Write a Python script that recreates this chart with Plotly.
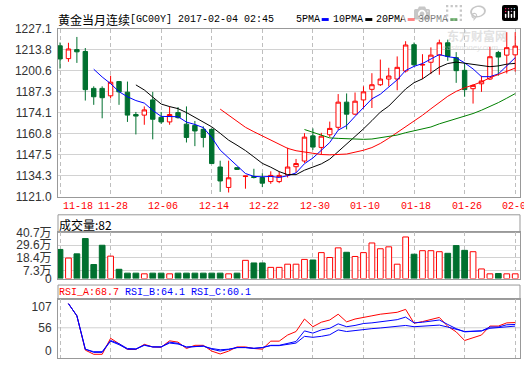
import plotly.graph_objects as go

W, H = 524, 369

# ---------------- data ----------------
dates = ["11-18", "11-21", "11-22", "11-23", "11-24", "11-25", "11-28", "11-29", "11-30", "12-01",
         "12-02", "12-05", "12-06", "12-07", "12-08", "12-09", "12-12", "12-13", "12-14", "12-15",
         "12-16", "12-19", "12-20", "12-21", "12-22", "12-23", "12-26", "12-27", "12-28", "12-29",
         "12-30", "01-03", "01-04", "01-05", "01-06", "01-09", "01-10", "01-11", "01-12", "01-13",
         "01-16", "01-17", "01-18", "01-19", "01-20", "01-23", "01-24", "01-25", "01-26", "01-27",
         "01-30", "01-31", "02-01", "02-02", "02-03"]

open_ = [1216.4, 1208.3, 1214.0, 1212.8, 1189.5, 1189.5, 1184.8, 1193.8, 1187.1, 1173.0,
         1172.6, 1182.2, 1171.2, 1168.3, 1174.2, 1166.9, 1166.1, 1163.6, 1163.6, 1139.8,
         1126.9, 1139.4, 1133.8, 1133.8, 1133.2, 1130.6, 1130.6, 1134.7, 1140.0, 1143.6,
         1159.5, 1152.2, 1160.2, 1164.9, 1180.8, 1173.2, 1182.2, 1188.9, 1191.8, 1195.4,
         1195.4, 1200.5, 1217.1, 1204.2, 1206.0, 1210.5, 1218.3, 1208.9, 1200.9, 1189.3,
         1192.4, 1195.4, 1212.2, 1210.5, 1210.7]
high = [1218.5, 1218.3, 1222.0, 1215.0, 1190.8, 1190.8, 1197.5, 1194.2, 1193.8, 1174.6,
        1178.1, 1187.3, 1174.6, 1178.1, 1177.7, 1178.1, 1168.9, 1165.5, 1164.2, 1143.8,
        1143.8, 1139.6, 1134.3, 1138.7, 1135.9, 1137.1, 1136.9, 1152.0, 1144.9, 1161.2,
        1164.2, 1161.4, 1168.5, 1185.9, 1186.3, 1186.9, 1190.8, 1199.1, 1207.7, 1202.5,
        1209.7, 1219.3, 1218.5, 1211.1, 1215.4, 1220.3, 1220.3, 1212.4, 1205.6, 1192.0,
        1197.5, 1215.8, 1213.2, 1225.0, 1225.0]
low = [1202.0, 1206.3, 1205.6, 1181.8, 1179.1, 1170.6, 1183.2, 1179.1, 1168.3, 1160.4,
       1166.5, 1157.3, 1167.1, 1166.5, 1170.4, 1155.3, 1153.0, 1152.2, 1141.8, 1124.1,
       1123.7, 1138.1, 1126.1, 1132.6, 1127.1, 1129.2, 1129.6, 1133.2, 1136.3, 1142.4,
       1150.6, 1147.5, 1158.7, 1163.2, 1163.6, 1172.6, 1176.7, 1177.1, 1191.0, 1190.8,
       1188.3, 1199.5, 1203.4, 1195.4, 1198.5, 1198.1, 1206.9, 1193.0, 1184.2, 1179.9,
       1187.3, 1194.8, 1197.5, 1198.9, 1200.1]
close = [1208.1, 1214.4, 1212.6, 1188.7, 1184.2, 1183.6, 1193.4, 1187.3, 1172.6, 1172.0,
         1175.9, 1170.0, 1168.3, 1173.0, 1171.0, 1158.5, 1162.6, 1158.5, 1142.0, 1131.0,
         1133.0, 1138.3, 1134.1, 1133.2, 1129.6, 1134.5, 1134.5, 1139.8, 1142.0, 1158.7,
         1152.4, 1159.3, 1164.2, 1180.8, 1173.2, 1181.4, 1187.3, 1191.8, 1195.4, 1197.3,
         1202.8, 1216.9, 1204.4, 1204.6, 1210.5, 1218.3, 1209.7, 1200.7, 1188.7, 1191.4,
         1194.2, 1209.5, 1209.3, 1215.2, 1216.2]

ma5 = [None, None, None, None,
       1201.6, 1196.7, 1192.5, 1187.4, 1184.2, 1181.8, 1180.2, 1175.6, 1171.8, 1171.8,
       1171.6, 1168.2, 1166.7, 1164.7, 1158.5, 1150.5, 1145.4, 1140.6, 1135.7, 1133.9,
       1133.6, 1133.9, 1133.2, 1134.3, 1136.1, 1141.9, 1145.5, 1150.4, 1155.3, 1163.1,
       1166.0, 1171.8, 1177.4, 1182.9, 1185.8, 1190.6, 1194.9, 1200.8, 1203.4, 1205.2,
       1207.8, 1210.9, 1209.5, 1208.8, 1205.6, 1201.8, 1196.9, 1196.9, 1198.6, 1203.9,
       1208.9]
ma10 = [None] * 9 + [
    1191.7, 1188.5, 1184.0, 1179.6, 1178.0, 1176.7, 1174.2, 1171.1, 1168.2, 1165.2,
    1161.1, 1156.8, 1153.6, 1150.2, 1146.2, 1142.1, 1139.7, 1136.9, 1135.0, 1135.0,
    1137.8, 1139.7, 1141.8, 1144.8, 1149.6, 1153.9, 1158.6, 1163.9, 1169.1, 1174.5,
    1178.3, 1183.4, 1189.1, 1193.1, 1195.5, 1199.2, 1202.9, 1205.2, 1206.1, 1205.4,
    1204.8, 1203.9, 1203.2, 1203.7, 1204.8, 1205.3]
ma20 = [None] * 19 + [
    1176.4, 1172.6, 1168.8, 1164.9, 1162.1, 1159.4, 1156.9, 1154.0, 1151.6, 1150.1,
    1149.4, 1148.3, 1147.7, 1147.5, 1147.9, 1148.0, 1149.2, 1150.4, 1152.1, 1154.7,
    1158.0, 1161.5, 1165.5, 1169.0, 1172.5, 1176.6, 1180.8, 1184.5, 1187.6, 1189.9,
    1191.6, 1193.6, 1196.2, 1198.4, 1200.1, 1202.3]
ma30 = [None] * 29 + [
    1163.5, 1161.7, 1159.8, 1158.2, 1157.9, 1157.6, 1157.5, 1157.3, 1157.5, 1158.2,
    1159.1, 1160.0, 1161.5, 1162.7, 1163.8, 1165.1, 1167.1, 1168.7, 1170.1, 1171.6,
    1173.6, 1175.7, 1178.0, 1180.5, 1183.3, 1186.2]

volume = [25.7, 18.1, 21.8, 35.3, 12.4, 29.4, 19.8, 8.2, 4.8, 4.8,
          4.2, 4.8, 4.8, 4.2, 4.8, 4.8, 4.8, 4.8, 4.8, 4.8,
          4.2, 4.8, 16.1, 13.8, 13.8, 9.9, 9.9, 12.7, 12.7, 16.9,
          16.4, 22.9, 18.6, 27.1, 23.2, 19.5, 22.9, 31.4, 26.3, 28.0,
          12.7, 36.7, 21.5, 24.6, 24.6, 23.7, 22.3, 29.1, 24.9, 23.7,
          8.5, 4.2, 4.5, 4.2, 4.2]

rsi_a = [None, 114.9, 85.2, 1.5, -8.7, -8.7, 30.4, 17.1, 3.1, 3.1,
         15.6, 9.3, 8.5, 24.2, 21.0, 5.4, 13.2, 13.2, -0.9, -7.9,
         -0.9, 9.3, 9.3, 5.4, 3.8, 23.4, 23.4, 38.3, 46.9, 77.4,
         58.6, 69.6, 75.0, 89.1, 70.4, 77.4, 82.1, 85.2, 89.1, 90.7,
         93.8, 100.9, 67.2, 71.1, 75.8, 81.3, 59.4, 46.1, 25.0, 31.3,
         38.3, 60.2, 60.2, 68.0, 68.7]
rsi_b = [None, 114.9, 85.2, 3.8, -2.4, -2.4, 25.0, 17.1, 5.4, 4.6,
         14.0, 9.3, 9.3, 21.0, 17.9, 8.5, 10.9, 11.7, 3.8, -0.9,
         3.1, 7.7, 7.7, 5.4, 7.7, 13.2, 13.2, 17.9, 22.6, 48.4,
         43.0, 50.8, 54.7, 65.6, 58.6, 61.7, 66.4, 68.0, 70.4, 72.7,
         75.8, 82.1, 68.0, 69.6, 72.7, 75.0, 64.1, 53.9, 46.1, 46.9,
         48.4, 57.8, 57.8, 63.3, 64.1]
rsi_c = [None, 114.9, 85.2, 3.8, -4.0, -4.0, 23.4, 14.8, 3.8, 3.8,
         13.2, 9.3, 9.3, 18.7, 16.4, 9.3, 10.9, 10.9, 5.4, 2.3,
         3.8, 7.7, 7.7, 6.2, 7.7, 12.4, 12.4, 16.4, 18.7, 35.1,
         32.8, 35.1, 39.0, 50.8, 46.9, 49.2, 52.3, 53.9, 55.5, 57.0,
         58.6, 61.7, 58.6, 59.4, 61.0, 62.5, 57.8, 52.3, 46.9, 47.7,
         48.4, 54.7, 56.3, 58.6, 60.1]

price_ticks = [1121.0, 1134.3, 1147.5, 1160.8, 1174.1, 1187.3, 1200.6, 1213.8, 1227.1]
vol_ticks = [0, 7.3, 18.4, 29.6, 40.7]
vol_tick_text = ["0", "7.3万", "18.4万", "29.6万", "40.7万"]
rsi_ticks = [0, 56, 107]
label_dates = dates[::6]

title_cn = "黄金当月连续"
title_code = "[GC00Y] 2017-02-04 02:45"
ma_names = ["5PMA", "10PMA", "20PMA", "30PMA"]
volume_label = "成交量:82"
rsi_labels = ["RSI_A:68.7", "RSI_B:64.1", "RSI_C:60.1"]

# ---------------- styles ----------------
RED = "#FF0000"
GREEN = "#00702F"
BLUE = "#0000FF"
BLACK = "#000000"
MA30_GREEN = "#008000"
FRAME = "#999999"
GRID = "#D2D2D2"
VGRID = "#BEBEBE"
TICK = "#333333"
MONO = "Liberation Mono, DejaVu Sans Mono, monospace"
CJK = "Noto Sans CJK SC, sans-serif"
SANS = "Liberation Sans, Arial, Noto Sans CJK SC, sans-serif"
ma_colors = [BLUE, BLACK, RED, MA30_GREEN]
rsi_colors = [RED, BLUE, BLUE]


def fx(px):
    return px / W


def fy(px):
    return 1 - px / H


X_L, X_R = 58, 520
XR = [-0.24, 54.57]

fig = go.Figure()

fig.add_trace(go.Candlestick(
    x=dates, open=open_, high=high, low=low, close=close,
    increasing=dict(line=dict(color=RED, width=1), fillcolor="#FFFFFF"),
    decreasing=dict(line=dict(color=GREEN, width=1), fillcolor=GREEN),
    whiskerwidth=0, xaxis="x", yaxis="y", hoverinfo="skip"))

for vals, col in zip([ma5, ma10, ma20, ma30], ma_colors):
    fig.add_trace(go.Scatter(x=dates, y=vals, mode="lines",
                             line=dict(color=col, width=1), xaxis="x", yaxis="y",
                             hoverinfo="skip"))

up = [c >= o for o, c in zip(open_, close)]
fig.add_trace(go.Bar(
    x=dates, y=volume, width=0.68,
    marker=dict(color=["#FFFFFF" if u else GREEN for u in up],
                line=dict(color=[RED if u else GREEN for u in up], width=1)),
    xaxis="x2", yaxis="y2", hoverinfo="skip"))

for vals, col in zip([rsi_a, rsi_b, rsi_c], rsi_colors):
    fig.add_trace(go.Scatter(x=dates, y=vals, mode="lines",
                             line=dict(color=col, width=1), xaxis="x3", yaxis="y3",
                             hoverinfo="skip"))

xcommon = dict(type="category", range=XR, domain=[fx(X_L), fx(X_R)],
               tickvals=label_dates, showticklabels=False, ticks="",
               showgrid=True, gridcolor=VGRID, griddash="4px,3px", gridwidth=1,
               showline=True, mirror=True, linecolor=FRAME, linewidth=1,
               zeroline=False, fixedrange=True)
ycommon = dict(ticks="", showline=True, mirror=True, linecolor=FRAME, linewidth=1,
               zeroline=False, tickfont=dict(family=SANS, size=12, color=TICK),
               gridcolor=GRID, gridwidth=1, fixedrange=True, ticklabelstandoff=3)

fig.update_layout(
    width=W, height=H, autosize=False,
    margin=dict(l=0, r=0, t=0, b=0),
    paper_bgcolor="#FFFFFF", plot_bgcolor="#FFFFFF",
    showlegend=False, boxgap=0.25, bargap=0.3,
    xaxis=dict(**xcommon, anchor="y", rangeslider=dict(visible=False)),
    xaxis2=dict(**xcommon, anchor="y2"),
    xaxis3=dict(**xcommon, anchor="y3"),
    yaxis=dict(**ycommon, anchor="x", domain=[fy(197.3), fy(22.7)],
               range=[1120.98, 1227.12], tickvals=price_ticks,
               ticktext=["%.1f" % v for v in price_ticks], showgrid=True),
    yaxis2=dict(**ycommon, anchor="x2", domain=[fy(282.3), fy(234.3)],
                range=[0, 40.72], tickvals=vol_ticks, ticktext=vol_tick_text,
                showgrid=True),
    yaxis3=dict(**ycommon, anchor="x3", domain=[fy(365), fy(304)],
                range=[-18.1, 125.1], tickvals=rsi_ticks,
                ticktext=[str(v) for v in rsi_ticks], showgrid=False),
)

shapes = []
# legend strips of the volume and RSI panels
for top, bot in [(216, 234.3), (289, 304)]:
    shapes.append(dict(type="rect", xref="paper", yref="paper",
                       x0=fx(X_L), x1=fx(X_R), y0=fy(bot), y1=fy(top),
                       line=dict(color=FRAME, width=1), fillcolor="rgba(0,0,0,0)",
                       layer="below"))
# RSI middle gridline
shapes.append(dict(type="line", xref="x3 domain", yref="y3", x0=0, x1=1,
                   y0=rsi_ticks[1], y1=rsi_ticks[1],
                   line=dict(color=GRID, width=1), layer="below"))

annotations = []


def add_text(text, x, y, font, color, size, xanchor="left"):
    annotations.append(dict(text=text, x=fx(x), y=fy(y), xref="paper", yref="paper",
                            xanchor=xanchor, yanchor="middle", showarrow=False,
                            font=dict(family=font, size=size, color=color),
                            borderpad=0, borderwidth=0))


# title
add_text(title_cn, 58, 12.7, CJK, BLACK, 12)
add_text(title_code, 130, 12.7, MONO, BLACK, 10)
# MA legend
leg_x = [295.7, 333.3, 375.7, 418.3]
for name, col, lx in zip(ma_names, ma_colors, leg_x):
    add_text(name, lx, 12.7, MONO, BLACK, 10)
    rx = lx + 6 * len(name) + 2
    shapes.append(dict(type="rect", xref="paper", yref="paper",
                       x0=fx(rx), x1=fx(rx + 7), y0=fy(14.5), y1=fy(11.5),
                       line=dict(width=0), fillcolor=col))

# date labels below main panel
for k, d in enumerate(label_dates):
    annotations.append(dict(text=d, x=d, xref="x", y=fy(207.3), yref="paper",
                            xanchor="left" if k == 0 else "center", yanchor="middle",
                            xshift=3 if k == 0 else 2, showarrow=False,
                            font=dict(family=MONO, size=10, color=RED),
                            borderpad=0, borderwidth=0))

# volume legend
add_text(volume_label, 59, 225.7, CJK, BLACK, 12)
# RSI legend
for lab, col, lx in zip(rsi_labels, rsi_colors, [59, 125, 191]):
    add_text(lab, lx, 296.7, MONO, col, 10)

# watermark
add_text("<b>东方财富网</b>", 447, 29.5, CJK, "rgba(200,200,200,0.55)", 12)
add_text("<i>eastmoney.com</i>", 442, 42.5, SANS, "rgba(200,200,200,0.55)", 8)

fig.update_layout(shapes=shapes, annotations=annotations)

fig.write_html("out.html",
               post_script="document.body.style.margin='0';document.body.style.overflow='hidden';")
